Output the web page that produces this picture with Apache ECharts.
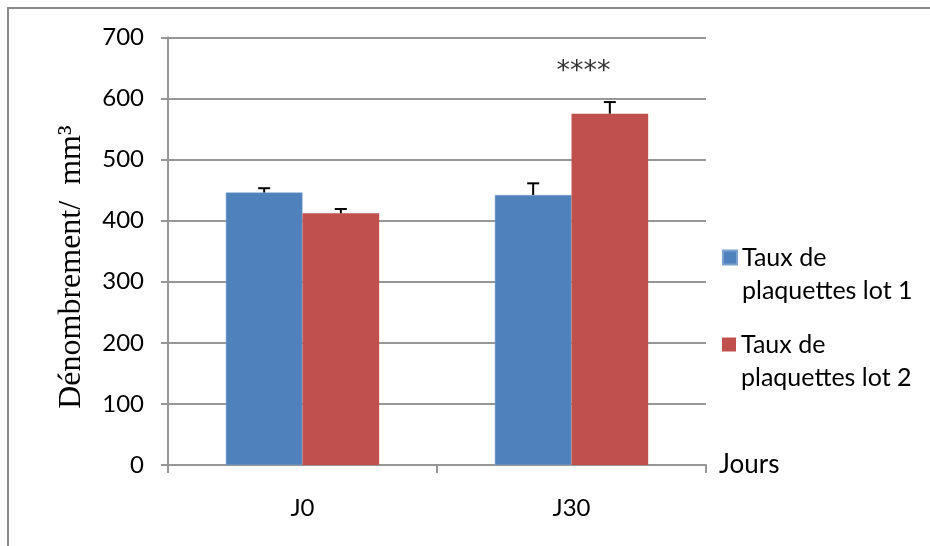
<!DOCTYPE html>
<html>
<head>
<meta charset="utf-8">
<script src="https://cdn.jsdelivr.net/npm/echarts@6/dist/echarts.min.js"></script>
<style>
  html, body { margin: 0; padding: 0; background: #fff; }
  #chart { width: 930px; height: 546px; }
</style>
</head>
<body>
<div id="chart"></div>
<script>
// ---- Data ----
const categories = ['J0', 'J30'];
const seriesNames = ['Taux de\nplaquettes lot 1', 'Taux de\nplaquettes lot 2'];
const lot1 = [446, 442];
const lot2 = [412, 575];
const err1 = [7, 19];
const err2 = [7, 19];
const yMin = 0, yMax = 700, yStep = 100;
const xAxisTitle = 'Jours';
const yAxisTitle = 'Dénombrement/  mm³';
const signifCategory = ['J30'];
const signifValue = [652];
const signifText = ['****'];

// ---- Style ----
const BLUE = '#4F81BD';
const RED = '#C0504D';
const GRID = '#979797';
const SANS = 'Lato';
const CAT_GAP = 0.43;

const chart = echarts.init(document.getElementById('chart'), null, { renderer: 'canvas' });

const errData = [];
categories.forEach((c, i) => {
  errData.push([i, lot1[i], err1[i], 0]);
  errData.push([i, lot2[i], err2[i], 1]);
});

function renderErr(params, api) {
  const ci = api.value(0), v = api.value(1), e = api.value(2), s = api.value(3);
  const base = api.coord([ci, v]);
  const top = api.coord([ci, v + e]);
  const band = api.size([1, 0])[0];
  const barW = band * (1 - CAT_GAP) / 2;
  const x = base[0] + (s === 0 ? -0.5 : 0.5) * barW;
  const st = { stroke: '#000', lineWidth: 2 };
  return {
    type: 'group',
    children: [
      { type: 'line', shape: { x1: x, y1: base[1], x2: x, y2: top[1] }, style: st },
      { type: 'line', shape: { x1: x - 6, y1: top[1], x2: x + 6, y2: top[1] }, style: st }
    ]
  };
}

const legendCommon = {
  orient: 'vertical',
  left: 722,
  itemWidth: 14,
  itemHeight: 14,
  padding: 0,
  icon: 'rect',
  selectedMode: false,
  formatter: (n) => '\n' + n,
  textStyle: { fontFamily: SANS, fontSize: 25, lineHeight: 33, color: '#000' }
};

const option = {
  animation: false,
  backgroundColor: '#fff',
  graphic: [{
    type: 'rect',
    shape: { x: 8, y: 8, width: 1000, height: 1000 },
    style: { fill: 'none', stroke: '#8a8a8a', lineWidth: 2 },
    silent: true
  }],
  grid: { left: 168, right: 224, top: 37.3, bottom: 81 },
  legend: [
    Object.assign({}, legendCommon, { top: 208, data: [seriesNames[0]] }),
    Object.assign({}, legendCommon, { top: 295, data: [seriesNames[1]] })
  ],
  xAxis: {
    type: 'category',
    data: categories,
    name: xAxisTitle,
    nameLocation: 'end',
    nameGap: 13,
    nameTextStyle: { fontFamily: SANS, fontSize: 26, color: '#000' },
    axisLine: { lineStyle: { color: GRID, width: 2 } },
    axisTick: { show: true, length: 8, lineStyle: { color: GRID, width: 2 }, alignWithLabel: false },
    axisLabel: { fontFamily: SANS, fontSize: 24, color: '#000', margin: 31 }
  },
  yAxis: {
    type: 'value',
    min: yMin, max: yMax, interval: yStep,
    name: yAxisTitle,
    nameLocation: 'middle',
    nameGap: 80,
    nameTextStyle: { fontFamily: 'Liberation Serif', fontSize: 32, color: '#000', padding: [0, 32, 0, 0] },
    axisLine: { show: true, lineStyle: { color: GRID, width: 2 } },
    axisTick: { show: true, length: 7, lineStyle: { color: GRID, width: 2 } },
    axisLabel: { fontFamily: SANS, fontSize: 24, color: '#000', margin: 24 },
    splitLine: { show: true, lineStyle: { color: GRID, width: 2 } }
  },
  series: [
    {
      name: seriesNames[0], type: 'bar', data: lot1, barGap: 0, barCategoryGap: (CAT_GAP * 100) + '%',
      itemStyle: { color: BLUE, borderColor: '#7ea2cf', borderWidth: 0.5 }, z: 2
    },
    {
      name: seriesNames[1], type: 'bar', data: lot2, barGap: 0, barCategoryGap: (CAT_GAP * 100) + '%',
      itemStyle: { color: RED }, z: 2
    },
    {
      name: 'err', type: 'custom', renderItem: renderErr, data: errData,
      encode: { x: 0, y: 1 }, z: 5, silent: true
    },
    {
      name: 'signif', type: 'scatter', symbolSize: 0, silent: true,
      data: signifCategory.map((c, i) => [c, signifValue[i]]),
      label: {
        show: true, position: 'inside', offset: [12, 5],
        formatter: (p) => signifText[p.dataIndex],
        fontFamily: 'DejaVu Sans', fontSize: 27, color: '#000'
      }
    }
  ]
};

chart.setOption(option);
</script>
</body>
</html>
